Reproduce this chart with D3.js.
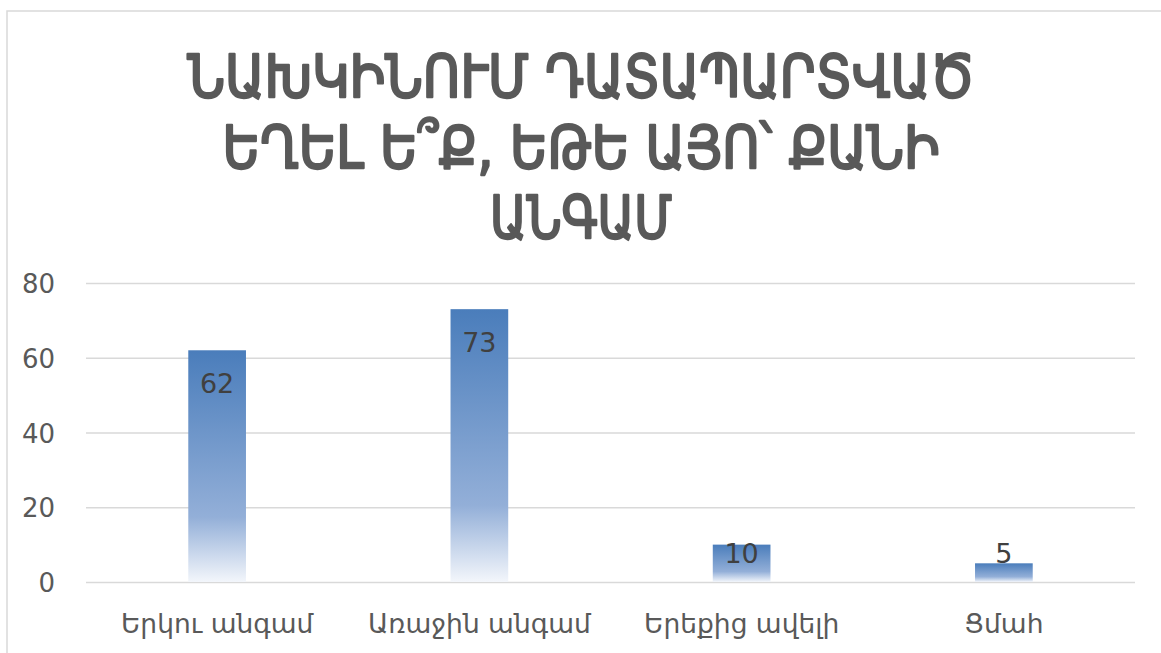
<!DOCTYPE html>
<html><head><meta charset="utf-8">
<script src="https://cdn.jsdelivr.net/npm/d3@7"></script>
<style>
html,body{margin:0;padding:0;background:#fff;}
svg{display:block;}
text{font-family:"DejaVu Sans","Noto Sans",sans-serif;}
</style></head>
<body>
<svg id="chart" width="1161" height="653"></svg>
<script>
const categories = ["Երկու անգամ", "Առաջին անգամ", "Երեքից ավելի", "Ցմահ"];
const values = [62, 73, 10, 5];
const yTicks = [0, 20, 40, 60, 80];
const titleLines = ["ՆԱԽԿԻՆՈՒՄ ԴԱՏԱՊԱՐՏՎԱԾ", "ԵՂԵԼ Ե՞Ք, ԵԹԵ ԱՅՈ՝ ՔԱՆԻ", "ԱՆԳԱՄ"];
const titleWidths = [787, 717, 182];

const svg = d3.select("#chart");
const W = 1161, H = 653;

// chart frame
svg.append("rect").attr("x", 7).attr("y", 11).attr("width", W + 10).attr("height", H + 10)
  .attr("fill", "#fff").attr("stroke", "#d9d9d9").attr("stroke-width", 1.5);

const plot = {left: 86, right: 1135, top: 283, bottom: 582};

const x = d3.scaleBand().domain(categories).range([plot.left, plot.right])
  .paddingInner(0.78).paddingOuter(0.39);
const y = d3.scaleLinear().domain([0, 80]).range([plot.bottom, plot.top]);

// gradient
const defs = svg.append("defs");
const grad = defs.append("linearGradient").attr("id", "barGrad")
  .attr("x1", 0).attr("y1", 0).attr("x2", 0).attr("y2", 1);
grad.append("stop").attr("offset", "0%").attr("stop-color", "#4a7dbb");
grad.append("stop").attr("offset", "72%").attr("stop-color", "#93afd8");
grad.append("stop").attr("offset", "100%").attr("stop-color", "#f3f6fb");

// gridlines
const yAxis = d3.axisLeft(y).tickValues(yTicks).tickSize(-(plot.right - plot.left)).tickPadding(0);
const gy = svg.append("g").attr("transform", `translate(${plot.left},0)`).call(yAxis);
gy.select(".domain").remove();
gy.selectAll(".tick line").attr("stroke", "#d9d9d9").attr("stroke-width", 1.5);
gy.selectAll(".tick text")
  .attr("x", 55 - plot.left).attr("dy", null).attr("y", 9.5)
  .attr("text-anchor", "end")
  .style("font-family", "'DejaVu Sans', sans-serif")
  .style("font-size", "26px").attr("fill", "#595959");

// bars
svg.append("g").selectAll("rect").data(values).join("rect")
  .attr("x", (d, i) => x(categories[i]))
  .attr("y", d => y(d))
  .attr("width", x.bandwidth())
  .attr("height", d => y(0) - y(d))
  .attr("fill", "url(#barGrad)");

// data labels
svg.append("g").selectAll("text").data(values).join("text")
  .attr("x", (d, i) => x(categories[i]) + x.bandwidth() / 2)
  .attr("y", d => Math.min(y(d) + 43, y(0) - 19))
  .attr("text-anchor", "middle")
  .attr("font-size", 27).attr("fill", "#404040")
  .text(d => d);

// x axis
const xAxis = d3.axisBottom(x).tickSize(0).tickPadding(0);
const gx = svg.append("g").attr("transform", `translate(0,${plot.bottom})`).call(xAxis);
gx.select(".domain").remove();
gx.selectAll(".tick text")
  .attr("y", 51).attr("dy", null)
  .style("font-family", "'DejaVu Sans', sans-serif")
  .style("font-size", "26.5px").attr("fill", "#595959");

// title
svg.append("g").selectAll("text").data(titleLines).join("text")
  .attr("x", 581)
  .attr("y", (d, i) => 97 + i * 70.5)
  .attr("text-anchor", "middle")
  .attr("font-size", 58).attr("font-weight", "normal")
  .attr("fill", "#595959").attr("stroke", "#595959").attr("stroke-width", 2.4)
  .attr("stroke-linejoin", "round")
  .attr("textLength", (d, i) => titleWidths[i])
  .attr("lengthAdjust", "spacingAndGlyphs")
  .text(d => d);
</script>
</body></html>
